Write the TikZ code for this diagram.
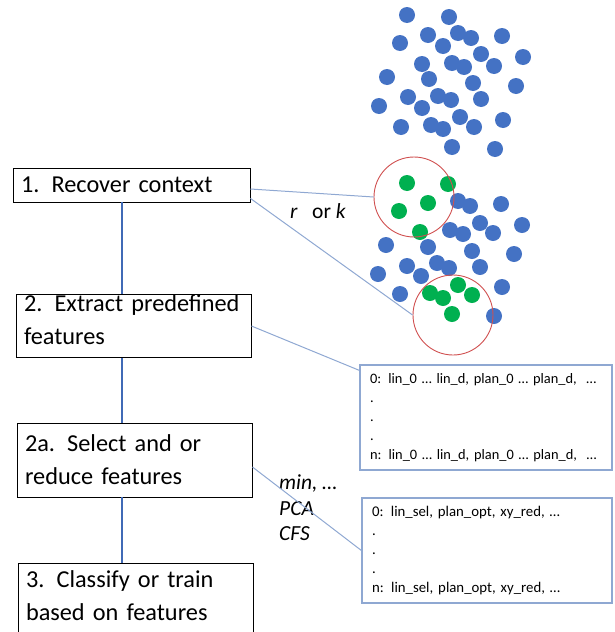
\documentclass[tikz,border=0pt]{standalone}
\usepackage{fontspec}
\setmainfont{Carlito}
\usepackage{tikz}

\definecolor{dotblue}{RGB}{68,114,196}
\definecolor{dotgreen}{RGB}{0,176,80}
\definecolor{ringred}{RGB}{208,80,80}
\definecolor{linkblue}{RGB}{64,106,182}
\definecolor{paleblue}{RGB}{143,168,210}

\begin{document}
\hyphenpenalty=10000
\begin{tikzpicture}[x=1pt,y=-1pt]
    \tikzstyle{stepbox}=[draw=black,line width=0.9pt,fill=white,rectangle,inner xsep=8pt,inner ysep=0pt,align=left,font=\fontsize{24.3}{33}\selectfont]
    \tikzstyle{featbox}=[draw=paleblue,line width=1.2pt,fill=white,rectangle,inner xsep=10pt,inner ysep=0pt,align=left,font=\fontsize{14.4}{19}\selectfont]
    \tikzstyle{link}=[draw=linkblue,line width=2pt,-]
    \tikzstyle{thinlink}=[draw=paleblue,line width=1pt,-]
    \tikzstyle{bdot}=[circle,fill=dotblue,minimum size=16pt,inner sep=0pt]
    \tikzstyle{gdot}=[circle,fill=dotgreen,minimum size=16pt,inner sep=0pt]
    \tikzstyle{ring}=[circle,draw=ringred,line width=0.9pt,minimum size=80pt,inner sep=0pt]
    \tikzstyle{note}=[inner sep=0pt,align=left,font=\fontsize{21.5}{25.5}\selectfont]

    \useasboundingbox (0,0) rectangle (614,632);

    % steps
    \node[stepbox,minimum width=237pt,minimum height=34pt,text width=221pt] (b1) at (131.5,185) {1. Recover context};
    \node[stepbox,minimum width=235pt,minimum height=62pt,text width=219pt,text depth=46pt] (b2) at (133.5,326) {2. Extract predefined\\features};
    \node[stepbox,minimum width=235pt,minimum height=74pt,text width=219pt] (b2a) at (134.5,460) {2a. Select and or\\reduce features};
    \node[stepbox,minimum width=235pt,minimum height=76pt,text width=219pt,text depth=44pt] (b3) at (135.5,601) {3. Classify or train\\based on features};

    % feature tables
    \node[featbox,minimum width=252pt,minimum height=105pt,text width=232pt] (f1) at (486,417.5) {0: lin\_0 … lin\_d, plan\_0 … plan\_d,\ \ …\\.\\.\\.\\n: lin\_0 … lin\_d, plan\_0 … plan\_d,\ \ …};
    \node[featbox,minimum width=250pt,minimum height=105pt,text width=230pt,font=\fontsize{14.8}{19}\selectfont] (f2) at (487,550.5) {0: lin\_sel, plan\_opt, xy\_red, …\\.\\.\\.\\n: lin\_sel, plan\_opt, xy\_red, …};

    % points
    \node[bdot] (d1)  at (407,15) {};
    \node[bdot] (d2)  at (449,17) {};
    \node[bdot] (d3)  at (428,35) {};
    \node[bdot] (d4)  at (458,33) {};
    \node[bdot] (d5)  at (471,38) {};
    \node[bdot] (d6)  at (502,36) {};
    \node[bdot] (d7)  at (400,43) {};
    \node[bdot] (d8)  at (443,46) {};
    \node[bdot] (d9)  at (481,54) {};
    \node[bdot] (d10) at (523,57) {};
    \node[bdot] (d11) at (422,64) {};
    \node[bdot] (d12) at (452,63) {};
    \node[bdot] (d13) at (464,67) {};
    \node[bdot] (d14) at (494,66) {};
    \node[bdot] (d15) at (387,77) {};
    \node[bdot] (d16) at (429,79) {};
    \node[bdot] (d17) at (473,83) {};
    \node[bdot] (d18) at (516,86) {};
    \node[bdot] (d19) at (408,97) {};
    \node[bdot] (d20) at (438,96) {};
    \node[bdot] (d21) at (451,100) {};
    \node[bdot] (d22) at (481,99) {};
    \node[bdot] (d23) at (379,106) {};
    \node[bdot] (d24) at (422,108) {};
    \node[bdot] (d25) at (460,117) {};
    \node[bdot] (d26) at (503,120) {};
    \node[bdot] (d27) at (401,127) {};
    \node[bdot] (d28) at (431,125) {};
    \node[bdot] (d29) at (443,129) {};
    \node[bdot] (d30) at (474,127) {};
    \node[bdot] (d31) at (452,147) {};
    \node[bdot] (d32) at (495,149) {};

    \node[bdot] (d33) at (458,201) {};
    \node[bdot] (d34) at (470,206) {};
    \node[bdot] (d35) at (501,204) {};
    \node[bdot] (d36) at (480,223) {};
    \node[bdot] (d37) at (522,225) {};
    \node[bdot] (d38) at (450,230) {};
    \node[bdot] (d39) at (463,234) {};
    \node[bdot] (d40) at (493,233) {};
    \node[bdot] (d41) at (386,245) {};
    \node[bdot] (d42) at (428,247) {};
    \node[bdot] (d43) at (472,251) {};
    \node[bdot] (d44) at (514,254) {};
    \node[bdot] (d45) at (407,266) {};
    \node[bdot] (d46) at (437,263) {};
    \node[bdot] (d47) at (449,268) {};
    \node[bdot] (d48) at (480,267) {};
    \node[bdot] (d49) at (378,274) {};
    \node[bdot] (d50) at (421,276) {};
    \node[bdot] (d51) at (400,294) {};
    \node[bdot] (d52) at (502,287) {};
    \node[bdot] (d53) at (494,316) {};

    \node[gdot] (g1)  at (407,183) {};
    \node[gdot] (g2)  at (448,184) {};
    \node[gdot] (g3)  at (428,203) {};
    \node[gdot] (g4)  at (399,211) {};
    \node[gdot] (g5)  at (420,232) {};
    \node[gdot] (g6)  at (458,285) {};
    \node[gdot] (g7)  at (430,293) {};
    \node[gdot] (g8)  at (443,298) {};
    \node[gdot] (g9)  at (472,295) {};
    \node[gdot] (g10) at (452,314) {};

    \node[ring] (c1) at (414,197) {};
    \node[ring] (c2) at (453,315) {};

    % labels
    \node[note] (rk) at (318,211) {\textit{r}\ \ \ or \textit{k}};
    \node[note,anchor=west] (red) at (279,508) {\textit{min, …}\\\textit{PCA}\\\textit{CFS}};

    \path[link] ([xshift=-10pt]b1.south) -- ([xshift=-12pt]b2.north);
    \path[link] ([xshift=-12pt]b2.south) -- ([xshift=-13pt]b2a.north);
    \path[link] ([xshift=-13pt]b2a.south) -- ([xshift=-14pt]b3.north);

    \path[thinlink] ([yshift=-4pt]b1.east) -- (c1.west);
    \path[thinlink] ([yshift=4pt]b1.south east) -- (c2.west);
    \path[thinlink] (b2.east) -- ([yshift=-6pt]f1.north west);
    \path[thinlink] ([yshift=-7pt]b2a.east) -- (f2.west);
\end{tikzpicture}
\end{document}
